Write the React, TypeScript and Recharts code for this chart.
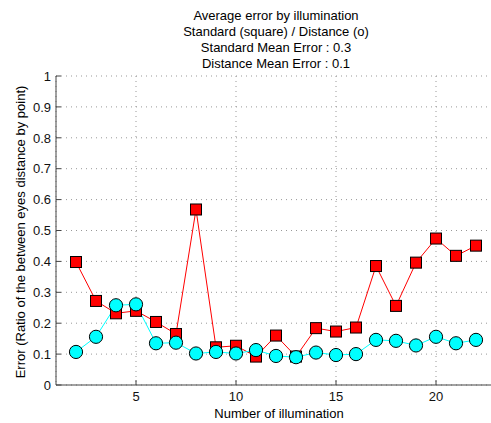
import React from 'react';
import { LineChart, Line, XAxis, YAxis, CartesianGrid } from 'recharts';

const illuminations = [2, 3, 4, 5, 6, 7, 8, 9, 10, 11, 12, 13, 14, 15, 16, 17, 18, 19, 20, 21, 22];
const standardErr = [0.398, 0.272, 0.232, 0.24, 0.204, 0.165, 0.568, 0.122, 0.127, 0.092, 0.16, 0.092, 0.184, 0.173, 0.186, 0.385, 0.256, 0.396, 0.474, 0.418, 0.451];
const distanceErr = [0.107, 0.156, 0.258, 0.261, 0.135, 0.137, 0.102, 0.107, 0.102, 0.113, 0.094, 0.09, 0.105, 0.097, 0.1, 0.146, 0.143, 0.128, 0.156, 0.135, 0.146];
const xTicks = [5, 10, 15, 20];
const yTicks = [0, 0.1, 0.2, 0.3, 0.4, 0.5, 0.6, 0.7, 0.8, 0.9, 1];
const titleLines = [
  'Average error by illumination',
  'Standard (square) / Distance (o)',
  'Standard Mean Error : 0.3',
  'Distance Mean Error : 0.1',
];

const data = illuminations.map((x, i) => ({ x, standard: standardErr[i], distance: distanceErr[i] }));

const FONT = '"Liberation Sans", Arial, Helvetica, sans-serif';
const AXIS = '#444';

const XTick = (props: any) => {
  const { x, y, payload } = props;
  return (
    <g>
      <line x1={x} y1={y} x2={x} y2={y - 5} stroke={AXIS} strokeWidth={1} />
      <text x={x} y={y + 16} textAnchor="middle" fontSize={13} fontFamily={FONT} fill="#111">
        {payload.value}
      </text>
    </g>
  );
};

const YTick = (props: any) => {
  const { x, y, payload } = props;
  return (
    <g>
      <line x1={x} y1={y} x2={x + 5} y2={y} stroke={AXIS} strokeWidth={1} />
      <text x={x - 5} y={y + 4.7} textAnchor="end" fontSize={13} fontFamily={FONT} fill="#111">
        {payload.value}
      </text>
    </g>
  );
};

const SquareDot = (props: any) => {
  const { cx, cy, index } = props;
  if (cx == null || cy == null) return <g key={`s-${index}`} />;
  return (
    <rect key={`s-${index}`} x={cx - 5.5} y={cy - 5.5} width={11} height={11} fill="#ff0000" stroke="#000" strokeWidth={1} />
  );
};

const CircleDot = (props: any) => {
  const { cx, cy, index } = props;
  if (cx == null || cy == null) return <g key={`c-${index}`} />;
  return <circle key={`c-${index}`} cx={cx} cy={cy} r={6.6} fill="#00ffff" stroke="#000" strokeWidth={1} />;
};

export default function App() {
  return (
    <div style={{ position: 'relative', width: 491, height: 423, overflow: 'hidden', background: '#fff' }}>
      <style>{`body{margin:0;overflow:hidden;background:#fff}`}</style>
      <LineChart width={500} height={423} data={data} margin={{ top: 76, right: 4, bottom: 0, left: 0 }}>
        <CartesianGrid stroke="#999" strokeDasharray="1 4" />
        <XAxis
          dataKey="x"
          type="number"
          domain={[1, 23]}
          ticks={xTicks}
          height={38}
          tickSize={0}
          tickMargin={0}
          tick={<XTick />}
          axisLine={{ stroke: AXIS }}
          interval={0}
        />
        <YAxis
          type="number"
          domain={[0, 1]}
          ticks={yTicks}
          width={56}
          tickSize={0}
          tickMargin={0}
          tick={<YTick />}
          axisLine={{ stroke: AXIS }}
          interval={0}
        />
        <Line
          dataKey="standard"
          type="linear"
          stroke="#ff0000"
          strokeWidth={1}
          dot={(p: any) => <SquareDot {...p} key={`s-${p.index}`} />}
          isAnimationActive={false}
        />
        <Line
          dataKey="distance"
          type="linear"
          stroke="#00ffff"
          strokeWidth={1}
          dot={(p: any) => <CircleDot {...p} key={`c-${p.index}`} />}
          isAnimationActive={false}
        />
      </LineChart>
      <svg width={491} height={423} style={{ position: 'absolute', left: 0, top: 0, pointerEvents: 'none' }}>
        {titleLines.map((t, i) => (
          <text key={t} x={276} y={19.7 + i * 16} textAnchor="middle" fontSize={13} fontFamily={FONT} fill="#000">
            {t}
          </text>
        ))}
        <text x={279} y={417.7} textAnchor="middle" fontSize={13} fontFamily={FONT} fill="#000">
          Number of illumination
        </text>
        <text
          x={0}
          y={0}
          transform="translate(25,232) rotate(-90)"
          textAnchor="middle"
          fontSize={13}
          fontFamily={FONT}
          fill="#000"
        >
          Error (Ratio of the between eyes distance by point)
        </text>
      </svg>
    </div>
  );
}
